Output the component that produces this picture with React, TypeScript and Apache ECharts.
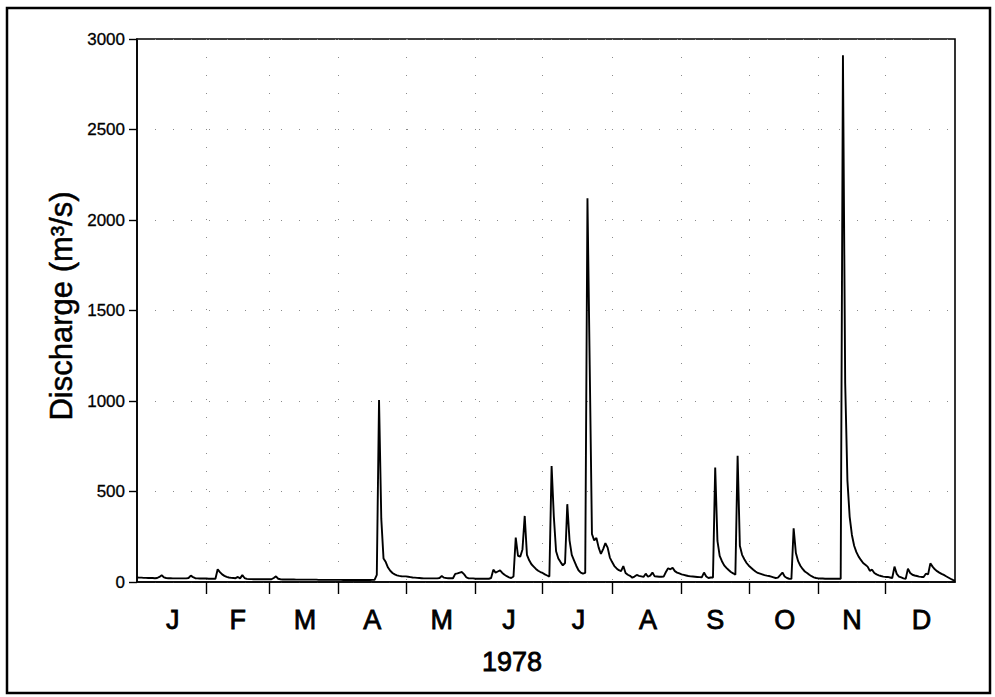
import React, { useEffect, useRef } from "react";
import * as echarts from "echarts";

// Daily discharge (m³/s), 1978
const jan = [25,24,24,23,23,22,22,22,21,22,28,37,26,22,21,21,20,20,20,20,20,20,20,22,35,27,21,20,19,19,19];
const feb = [19,18,18,18,18,70,55,42,34,28,25,23,22,21,28,20,38,22,17,16,16,15,15,15,15,15,15,15];
const mar = [15,15,22,31,18,15,14,14,14,14,14,14,13,13,13,13,13,13,13,13,13,13,12,12,12,12,12,12,12,12,12];
const apr = [12,12,11,11,11,11,11,11,11,11,11,11,11,11,11,12,12,40,1005,350,130,110,80,62,50,42,37,34,32,31];
const may = [31,29,27,25,24,23,22,21,20,20,20,20,20,20,20,22,33,24,22,21,21,21,45,48,52,55,42,25,20,20,20];
const jun = [18,18,18,18,18,18,18,22,68,52,58,64,50,40,32,26,22,30,245,145,140,180,365,150,120,98,85,72,62,55];
const jul = [50,42,36,30,641,360,170,130,110,92,105,430,230,150,120,90,65,52,46,50,2120,1200,265,230,243,190,155,182,215,190,135];
const aug = [110,88,75,65,60,88,50,40,34,24,30,39,34,31,28,46,29,35,52,31,30,29,29,30,55,76,70,79,60,52,47];
const sep = [42,39,36,33,31,30,29,28,27,26,52,30,22,25,25,632,227,144,115,92,78,66,55,48,40,697,200,150,126,105];
const oct = [90,79,68,58,50,46,42,38,35,33,30,26,22,24,38,52,30,22,18,17,297,160,115,90,72,58,50,40,32,26,22];
const nov = [20,19,19,18,18,18,18,18,18,18,18,2910,1100,560,360,260,200,165,140,122,105,95,85,62,68,50,42,37,33,30];
const dec = [28,28,25,22,85,45,30,25,20,17,74,50,40,36,33,30,28,28,46,42,103,85,70,60,52,45,39,32,25,18,12];
const yearEnd = [8];

const monthLetters = ["J","F","M","A","M","J","J","A","S","O","N","D"];
const monthStarts = [0,31,59,90,120,151,181,212,243,273,304,334,365];
const yearLabel = "1978";
const yTitle = "Discharge (m³/s)";

const FONT = "'Liberation Sans', Arial, Helvetica, sans-serif";

export default function App() {
  const ref = useRef<HTMLDivElement>(null);
  useEffect(() => {
    if (!ref.current) return;
    const chart = echarts.init(ref.current, null, { renderer: "svg" });
    const discharge = [...jan, ...feb, ...mar, ...apr, ...may, ...jun, ...jul, ...aug, ...sep, ...oct, ...nov, ...dec, ...yearEnd];
    const days = discharge.map((_, i) => String(i));
    const labelAt = new Map<number, string>();
    monthLetters.forEach((m, i) => labelAt.set(Math.round((monthStarts[i] + monthStarts[i + 1]) / 2), m));
    const tickSet = new Set(monthStarts.slice(1, -1));
    const dotted = { type: [1, 17] as any, color: "#8a8a8a", width: 1 };

    chart.setOption({
      animation: false,
      backgroundColor: "#fff",
      grid: { left: 137, right: 40, top: 39, bottom: 115, show: true, borderColor: "#000", borderWidth: 1.6, backgroundColor: "transparent" },
      xAxis: {
        type: "category",
        data: days,
        boundaryGap: false,
        axisLine: { lineStyle: { color: "#000", width: 1.6 } },
        axisTick: { interval: (i: number) => tickSet.has(i), length: 12, lineStyle: { color: "#000", width: 1.4 } },
        axisLabel: {
          interval: (i: number) => labelAt.has(i),
          formatter: (_v: string, i: number) => labelAt.get(i) ?? "",
          margin: 24, fontSize: 27, color: "#000", fontFamily: FONT,
          textBorderColor: "#000", textBorderWidth: 0.8,
        },
        splitLine: { show: true, interval: (i: number) => tickSet.has(i), lineStyle: dotted },
      },
      yAxis: {
        type: "value",
        min: 0, max: 3000, interval: 500,
        axisLine: { show: true, lineStyle: { color: "#000", width: 1.6 } },
        axisTick: { show: true, length: 8, lineStyle: { color: "#000", width: 1.4 } },
        axisLabel: {
          margin: 12, fontSize: 17, color: "#000", fontFamily: FONT,
          formatter: (v: number) => String(v),
          textBorderColor: "#000", textBorderWidth: 0.3,
        },
        splitLine: { show: true, lineStyle: dotted },
      },
      series: [{
        type: "line",
        data: discharge,
        symbol: "none",
        showSymbol: false,
        lineStyle: { color: "#000", width: 1.9 },
      }],
      graphic: [
        { type: "rect", shape: { x: 7, y: 8, width: 983, height: 685 }, style: { fill: "none", stroke: "#000", lineWidth: 2.5 }, silent: true },
        { type: "text", x: 512, y: 662, style: { text: yearLabel, fontSize: 27, fontFamily: FONT, fill: "#000", stroke: "#000", lineWidth: 0.8, align: "center", verticalAlign: "middle", textAlign: "center", textVerticalAlign: "middle" } },
        { type: "text", x: 61, y: 306, rotation: Math.PI / 2, style: { text: yTitle, fontSize: 31, fontFamily: FONT, fill: "#000", stroke: "#000", lineWidth: 0.5, align: "center", verticalAlign: "middle", textAlign: "center", textVerticalAlign: "middle" } },
      ],
    });
    return () => chart.dispose();
  }, []);
  return <div ref={ref} style={{ position: "fixed", left: 0, top: 0, width: 995, height: 697, background: "#fff" }} />;
}
